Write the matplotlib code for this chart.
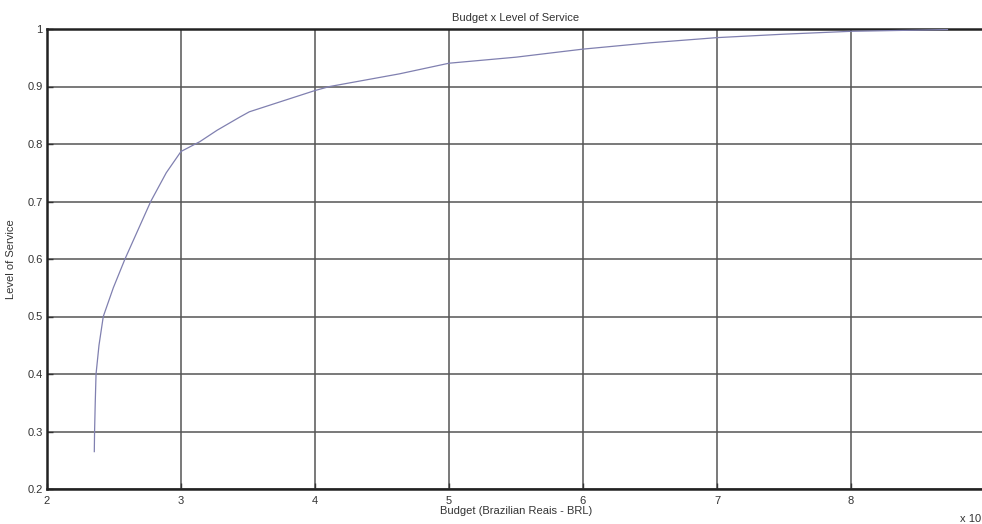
import matplotlib
matplotlib.use("Agg")
import matplotlib.pyplot as plt

budget = [2.353, 2.355, 2.36, 2.366, 2.388, 2.42, 2.495, 2.582, 2.678, 2.774, 2.89,
          3.0, 3.14, 3.27, 3.44, 3.51, 4.0, 4.11, 4.63, 5.0, 5.5, 5.82, 6.0,
          6.5, 7.0, 7.5, 8.0, 8.72]
service = [0.265, 0.3, 0.35, 0.4, 0.45, 0.5, 0.55, 0.6, 0.65, 0.7, 0.75,
           0.787, 0.804, 0.824, 0.847, 0.856, 0.893, 0.9, 0.922, 0.9405, 0.951,
           0.96, 0.965, 0.976, 0.985, 0.991, 0.996, 0.999]
xticks = [2, 3, 4, 5, 6, 7, 8]
yticks = [0.2, 0.3, 0.4, 0.5, 0.6, 0.7, 0.8, 0.9, 1.0]
yticklabels = ["0.2", "0.3", "0.4", "0.5", "0.6", "0.7", "0.8", "0.9", "1"]

plt.rcParams['font.family'] = ['Liberation Sans', 'DejaVu Sans']
fig = plt.figure(figsize=(9.82, 5.24), dpi=100)
W, H = 982, 524
ax = fig.add_axes([47 / W, (H - 489) / H, 938 / W, 460 / H])
ax.plot(budget, service, color='#8080b0', lw=0.9, zorder=3)
ax.set_xlim(2, 9)
ax.set_ylim(0.2, 1.0)
ax.set_xticks(xticks)
ax.set_xticklabels([str(t) for t in xticks])
ax.set_yticks(yticks)
ax.set_yticklabels(yticklabels)
ax.grid(True, color='#555555', lw=1.1, ls='-')
for s in ax.spines.values():
    s.set_linewidth(1.8)
    s.set_color('#222222')
ax.tick_params(direction='in', length=4, width=1, labelsize=8, colors='#333333', pad=3)
ax.tick_params(axis='x', pad=5)
ax.set_title('Budget x Level of Service', fontsize=8, color='#333333', pad=6)
ax.set_xlabel('Budget (Brazilian Reais - BRL)', fontsize=8, color='#333333', labelpad=0)
ax.set_ylabel('Level of Service', fontsize=8, color='#333333', labelpad=8)
fig.text(981 / W, 1 - 519 / H, 'x 10', fontsize=8, color='#333333', ha='right', va='center')
fig.savefig('out.png', dpi=100)
